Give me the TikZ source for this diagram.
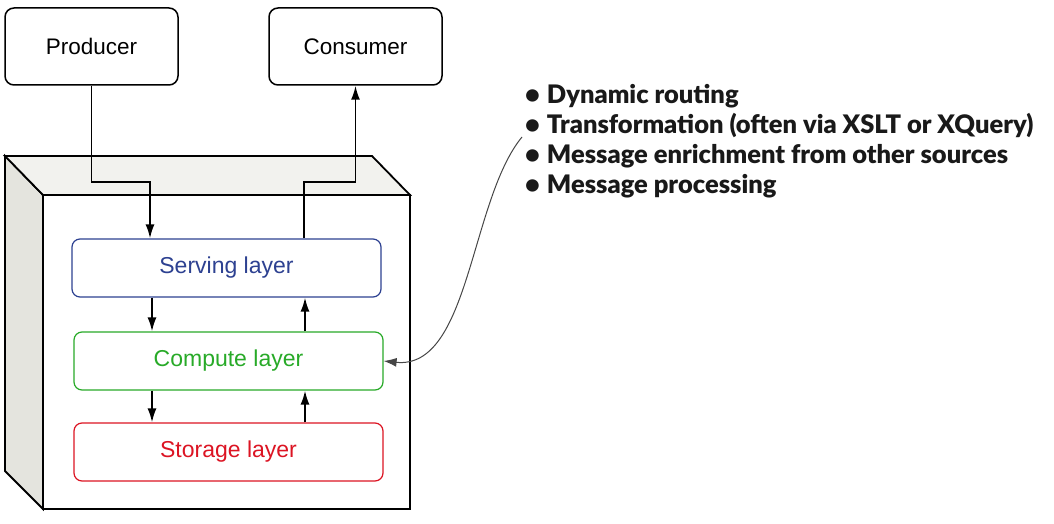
\documentclass[tikz,border=0pt]{standalone}
\usepackage{fontspec}
\setmainfont{Liberation Sans}
\newfontfamily\listfont{Lato}[BoldFont={Lato Black}]
\usetikzlibrary{arrows.meta,calc}
\definecolor{servblue}{RGB}{45,65,145}
\definecolor{compgreen}{RGB}{40,170,40}
\definecolor{storred}{RGB}{220,20,35}
\definecolor{sidegray}{RGB}{228,228,222}
\definecolor{topgray}{RGB}{242,242,238}
\definecolor{curvegray}{RGB}{70,70,70}
\definecolor{listink}{RGB}{25,25,25}
\tikzset{
  endbox/.style={draw=black, line width=1.5pt, rounded corners=9pt, minimum width=173pt, minimum height=77pt, font=\fontsize{22.5}{26}\selectfont, inner sep=0pt},
  layerbox/.style={draw=#1, text=#1, line width=1.2pt, rounded corners=8pt, minimum width=309pt, minimum height=58pt, font=\fontsize{23}{26}\selectfont, inner sep=0pt, fill=white},
  conn/.style={line width=1.8pt, -{Latex[length=14pt,width=9pt]}},
  face/.style={draw=black, line width=1.8pt, line join=miter},
}
\begin{document}
\begin{tikzpicture}[x=1pt,y=-1pt]
\useasboundingbox (0,0) rectangle (1054,524);
% 3D box
\path[face, fill=sidegray] (5,156) -- (43,195) -- (43,509) -- (5,471) -- cycle;
\path[face, fill=topgray] (5,156) -- (372,156) -- (410,195) -- (43,195) -- cycle;
\path[face, fill=white] (43,195) rectangle (410,509);
% boxes
\node[endbox] (prod) at (91.5,46.5) {Producer};
\node[endbox] (cons) at (355.5,46.5) {Consumer};
\node[layerbox=servblue] (serv) at (226.5,268) {Serving layer};
\node[layerbox=compgreen] (comp) at (228.5,361) {Compute layer};
\node[layerbox=storred] (stor) at (228.5,452) {Storage layer};
% routing coordinates
\coordinate (p1) at (150,182);
\coordinate (c1) at (304,182);
\coordinate (lx) at (152,0);
\coordinate (rx) at (305,0);
\draw[conn] (prod.south) |- (p1) -- (p1 |- serv.north);
\draw[conn] (c1 |- serv.north) -- (c1) -| (cons.south);
\draw[conn] (lx |- serv.south) -- (lx |- comp.north);
\draw[conn] (rx |- comp.north) -- (rx |- serv.south);
\draw[conn] (lx |- comp.south) -- (lx |- stor.north);
\draw[conn] (rx |- stor.north) -- (rx |- comp.south);
% list
\node[anchor=base west, align=left, inner sep=0pt, text=listink, font=\listfont\bfseries\fontsize{25.5}{30}\selectfont] (list) at (525,193)
{\textbullet\hspace{7pt}Dynamic routing\\
 \textbullet\hspace{7pt}Transformation (often via XSLT or XQuery)\\
 \textbullet\hspace{7pt}Message enrichment from other sources\\
 \textbullet\hspace{7pt}Message processing};
\coordinate (cstart) at (522,137);
\draw[curvegray, line width=1pt, -{Latex[length=13pt,width=9pt]}] (cstart) .. controls (470,200) and (470,370) .. (comp.east);
\end{tikzpicture}
\end{document}
